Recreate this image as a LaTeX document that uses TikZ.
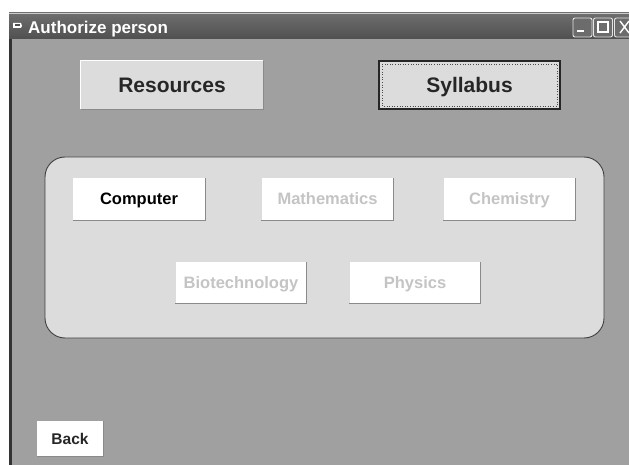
\documentclass[tikz,border=0pt]{standalone}
\usepackage{fontspec}
\setmainfont{Liberation Sans}
\begin{document}
\definecolor{winbg}{HTML}{A0A0A0}
\definecolor{face}{HTML}{DCDCDC}
\definecolor{shade}{HTML}{8A8A8A}
\definecolor{greytext}{HTML}{C4C4C4}
\definecolor{titletop}{HTML}{6E6E6E}
\definecolor{titlebot}{HTML}{505050}
\begin{tikzpicture}[x=1pt,y=-1pt,
  btn/.style={rectangle, inner sep=0pt, text height=15pt, text depth=0pt,
              font=\bfseries\fontsize{21}{24}\selectfont, text=black!85},
  face3d/.style={btn, fill=face, minimum width=182pt, minimum height=48pt},
  subj/.style={rectangle, inner sep=0pt, fill=white, minimum width=132pt, minimum height=42pt,
               text height=11.8pt, text depth=0pt,
               font=\bfseries\fontsize{16.5}{19}\selectfont},
  off/.style={subj, text=greytext},
  shadowline/.style={draw=shade, line width=1.2pt},
  lightline/.style={draw=white, line width=1.2pt},
  tbtn/.style={rectangle, draw=white!80!gray, line width=0.9pt, rounded corners=2pt,
               fill=gray!85!black, minimum width=19pt, minimum height=19pt, inner sep=0pt}
]
\useasboundingbox (0,0) rectangle (629,465);
% white margin and window body
\fill[white] (0,0) rectangle (629,465);
\fill[winbg] (11,13) rectangle (629,465);
\fill[black!80] (9,13) rectangle (12,465);

% title bar
\shade[top color=titletop, bottom color=titlebot] (9,13) rectangle (629,39);
\draw[white!60!gray, line width=0.6pt] (9,13.5) -- (629,13.5);
\node[anchor=west, text=white, font=\bfseries\fontsize{17}{20}\selectfont, inner sep=0pt,
      text height=12.2pt, text depth=0pt]
  (title) at (28,27.5) {Authorize person};
% window icon
\fill[white] (13,23) -- (21,23) -- (22,26) -- (21,28) -- (13,28) -- cycle;
\fill[titlebot] (15,24.5) rectangle (20,26.5);
% caption buttons
\node[tbtn] (minb) at (582.5,27.5) {};
\node[tbtn] (maxb) at (603,27.5) {};
\node[tbtn] (closeb) at (624,27.5) {};
\fill[white] (577,30) rectangle (584,32.5);
\draw[white, line width=1.2pt] (598,22) rectangle (608,32);
\draw[white, line width=1.4pt] (620,21) -- (629,33) (620,33) -- (629,21);

% top command buttons
\node[face3d] (res) at (172,85) {Resources};
\draw[lightline] (res.south west) -- (res.north west) -- (res.north east);
\draw[shadowline] (res.south west) -- (res.south east) -- (res.north east);

\node[face3d, minimum width=181pt, draw=black!85, line width=1.2pt] (syl) at (469.5,85) {Syllabus};
\draw[black!70, line width=0.6pt, dotted]
  ([xshift=3.5pt,yshift=-3.5pt]syl.north west) rectangle ([xshift=-3.5pt,yshift=3.5pt]syl.south east);

% subject panel
\node[rectangle, rounded corners=20pt, fill=face, draw=black!75, line width=0.9pt,
      minimum width=559pt, minimum height=181pt] (panel) at (324.5,247.5) {};

\node[subj] (comp) at (139,199) {Computer};
\node[off] (math) at (327.5,199) {Mathematics};
\node[off] (chem) at (509.5,199) {Chemistry};
\node[off, minimum width=131pt, minimum height=41pt] (bio) at (241,282.5) {Biotechnology};
\node[off, minimum width=131pt, minimum height=41pt] (phys) at (415,282.5) {Physics};
\foreach \b in {comp,math,chem,bio,phys}{
  \draw[shadowline] (\b.south west) -- (\b.south east) -- (\b.north east);
}

% back button
\node[subj, minimum width=66pt, minimum height=35pt, text=black!85, text height=11.1pt,
      font=\bfseries\fontsize{15.5}{18}\selectfont]
  (back) at (70,438.5) {Back};
\draw[shadowline] (back.south west) -- (back.south east) -- (back.north east);
\end{tikzpicture}
\end{document}
